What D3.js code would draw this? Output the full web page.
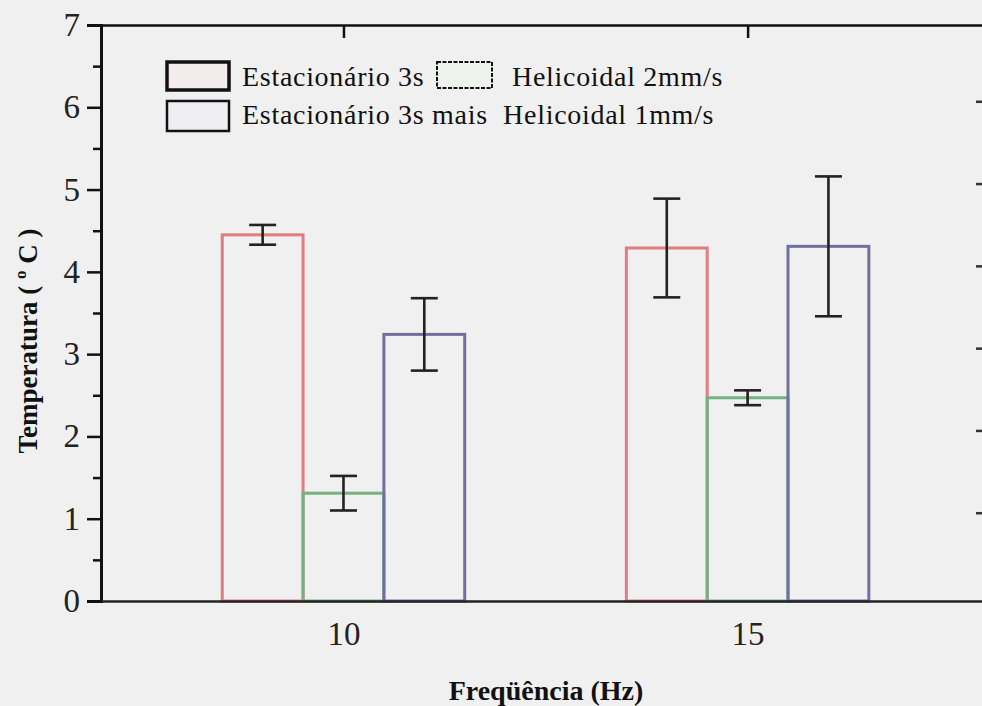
<!DOCTYPE html>
<html>
<head>
<meta charset="utf-8">
<script src="https://cdn.jsdelivr.net/npm/d3@7"></script>
<style>
  html, body { margin: 0; padding: 0; background: #f0f0f0; }
  svg { display: block; }
</style>
</head>
<body>
<svg id="chart" width="982" height="706"></svg>
<script>
// ---- data ----
const categories = [10, 15];
const seriesNames = ["Estacionário 3s", "Helicoidal 2mm/s", "Estacionário 3s mais  Helicoidal 1mm/s"];
const estacionario3s = [4.45, 4.29];
const estacionario3sErr = [0.12, 0.60];
const helicoidal2mm = [1.31, 2.47];
const helicoidal2mmErr = [0.21, 0.09];
const estHel1mm = [3.24, 4.31];
const estHel1mmErr = [0.44, 0.85];
const yTicks = [0, 1, 2, 3, 4, 5, 6, 7];
const yMinorTicks = [0.5, 1.5, 2.5, 3.5, 4.5, 5.5, 6.5];
const xTickLabels = ["10", "15"];

(function () {
const FONT = "'Liberation Serif', 'DejaVu Serif', serif";
const seriesValues = [estacionario3s, helicoidal2mm, estHel1mm];
const seriesErrors = [estacionario3sErr, helicoidal2mmErr, estHel1mmErr];
const seriesColors = ["#e27c82", "#74b282", "#70709e"];

const svg = d3.select("#chart");

const pLeft = 101, pRight = 982, pTop = 25, pBottom = 601;
const x = d3.scaleLinear().domain([7, 17.9]).range([pLeft, pRight]);
const y = d3.scaleLinear().domain([0, 7]).range([pBottom, pTop]);
const sub = d3.scaleBand().domain(d3.range(seriesNames.length)).range([-1.5, 1.5]);

// ---- bars ----
const bars = [];
seriesNames.forEach((s, si) => {
  categories.forEach((c, ci) => {
    bars.push({ si, c, v: seriesValues[si][ci], e: seriesErrors[si][ci] });
  });
});

const gBars = svg.append("g");
gBars.selectAll("rect").data(bars).join("rect")
  .attr("x", d => x(d.c + sub(d.si)))
  .attr("width", d => x(d.c + sub(d.si) + sub.bandwidth()) - x(d.c + sub(d.si)))
  .attr("y", d => y(d.v))
  .attr("height", d => y(0) - y(d.v))
  .attr("fill", "none")
  .attr("stroke", d => seriesColors[d.si])
  .attr("stroke-width", 3);

// ---- error bars ----
const capW = 13.5;
const gErr = svg.append("g").attr("stroke", "#222").attr("stroke-width", 2.6);
bars.forEach(d => {
  const cx = x(d.c + sub(d.si) + sub.bandwidth() / 2);
  gErr.append("line").attr("x1", cx).attr("x2", cx).attr("y1", y(d.v + d.e)).attr("y2", y(d.v - d.e));
  gErr.append("line").attr("x1", cx - capW).attr("x2", cx + capW).attr("y1", y(d.v + d.e)).attr("y2", y(d.v + d.e));
  gErr.append("line").attr("x1", cx - capW).attr("x2", cx + capW).attr("y1", y(d.v - d.e)).attr("y2", y(d.v - d.e));
});

// ---- axes ----
const yAxis = svg.append("g").attr("transform", `translate(${pLeft},0)`)
  .call(d3.axisLeft(y).tickValues(yTicks).tickFormat(d3.format("d")).tickSize(14).tickPadding(7));
yAxis.select(".domain").attr("stroke", "#111").attr("stroke-width", 3);
yAxis.selectAll(".tick line").attr("stroke", "#111").attr("stroke-width", 2.5);
yAxis.selectAll(".tick text").attr("font-size", 33).attr("fill", "#222")
  .attr("font-family", FONT);
const yMinor = svg.append("g").attr("transform", `translate(${pLeft},0)`)
  .call(d3.axisLeft(y).tickValues(yMinorTicks).tickFormat("").tickSize(8));
yMinor.select(".domain").remove();
yMinor.selectAll(".tick line").attr("stroke", "#111").attr("stroke-width", 2.5);

// right axis (inward ticks, no labels)
const yRight = svg.append("g").attr("transform", `translate(${pRight},0)`)
  .call(d3.axisLeft(y).tickValues([1, 2, 3, 4, 5, 6]).tickFormat("").tickSize(6).tickSizeOuter(0));
yRight.select(".domain").remove();
yRight.selectAll(".tick line").attr("stroke", "#333").attr("stroke-width", 2.5)
  .attr("transform", "translate(0,-6)");

// top axis (inward ticks)
const xTop = svg.append("g").attr("transform", `translate(0,${pTop})`)
  .call(d3.axisBottom(x).tickValues(categories).tickFormat("").tickSize(13).tickSizeOuter(0));
xTop.select(".domain").attr("stroke", "#111").attr("stroke-width", 2.5);
xTop.selectAll(".tick line").attr("stroke", "#111").attr("stroke-width", 2.5);

// bottom axis
const xBot = svg.append("g").attr("transform", `translate(0,${pBottom})`)
  .call(d3.axisBottom(x).tickValues(categories).tickFormat((d, i) => xTickLabels[i]).tickSize(0).tickSizeOuter(0));
xBot.select(".domain").attr("stroke", "#222").attr("stroke-width", 2.5);
xBot.selectAll(".tick text").attr("font-size", 33).attr("fill", "#222")
  .attr("font-family", FONT).attr("dy", null).attr("y", 44);

// ---- axis titles ----
svg.append("text")
  .attr("x", 546).attr("y", 700)
  .attr("text-anchor", "middle")
  .attr("font-family", FONT)
  .attr("font-size", 28).attr("font-weight", "bold").attr("fill", "#111")
  .text("Freqüência (Hz)");

const yt = svg.append("text")
  .attr("transform", "translate(37,341) rotate(-90)")
  .attr("text-anchor", "middle")
  .attr("font-family", FONT)
  .attr("font-size", 27).attr("font-weight", "bold").attr("fill", "#111");
yt.append("tspan").text("Temperatura ( ");
yt.append("tspan").attr("font-size", 17).attr("dy", -11).text("o");
yt.append("tspan").attr("dy", 11).text(" C )");

// ---- legend ----
const legendItems = [
  { label: seriesNames[0], bx: 167, by: 62, bw: 62, bh: 28, sw: 3.5, dash: null, fill: "#f4ecec", tx: 242, ty: 86 },
  { label: seriesNames[1], bx: 437, by: 62, bw: 55, bh: 26, sw: 2, dash: "4,1.5", fill: "#eef3ee", tx: 512, ty: 86 },
  { label: seriesNames[2], bx: 167, by: 101, bw: 62, bh: 30, sw: 2.5, dash: null, fill: "#eeeef3", tx: 242, ty: 124 }
];
const gLeg = svg.append("g");
legendItems.forEach(it => {
  gLeg.append("rect")
    .attr("x", it.bx).attr("y", it.by).attr("width", it.bw).attr("height", it.bh)
    .attr("fill", it.fill).attr("stroke", "#111").attr("stroke-width", it.sw)
    .attr("stroke-dasharray", it.dash);
  gLeg.append("text")
    .attr("x", it.tx).attr("y", it.ty)
    .attr("font-family", FONT)
    .attr("font-size", 28).attr("fill", "#111")
    .attr("letter-spacing", 0.7)
    .style("white-space", "pre")
    .text(it.label);
});
})();
</script>
</body>
</html>
